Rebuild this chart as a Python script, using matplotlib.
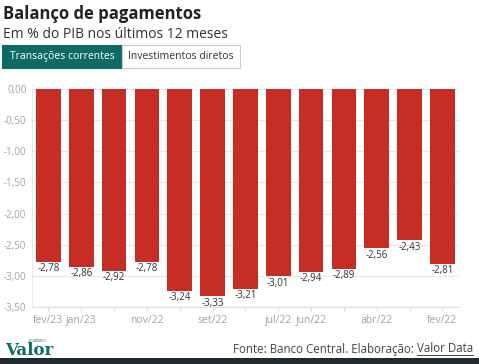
import matplotlib.pyplot as plt
from matplotlib.patches import Rectangle

plt.rcParams['font.family'] = ['Open Sans', 'DejaVu Sans']

meses = ['fev/23', 'jan/23', 'dez/22', 'nov/22', 'out/22', 'set/22', 'ago/22',
         'jul/22', 'jun/22', 'mai/22', 'abr/22', 'mar/22', 'fev/22']
valores = [-2.78, -2.86, -2.92, -2.78, -3.24, -3.33, -3.21,
           -3.01, -2.94, -2.89, -2.56, -2.43, -2.81]
rotulos_visiveis = ['fev/23', 'jan/23', 'nov/22', 'set/22', 'jul/22', 'jun/22', 'abr/22', 'fev/22']
yticks = [0, -0.5, -1.0, -1.5, -2.0, -2.5, -3.0, -3.5]

fig = plt.figure(figsize=(4.79, 3.64), dpi=100)
ax = fig.add_axes([0.0668, 0.1566, 0.891, 0.599])

x = list(range(len(valores)))
ax.bar(x, valores, width=0.75, color='#c62d25', zorder=2)
for xi, v in zip(x, valores):
    ax.text(xi, v - 0.02, f'{v:.2f}'.replace('.', ','), ha='center', va='top',
            fontsize=7, color='#333333', zorder=3)

ax.set_xlim(-0.5, 12.5)
ax.set_ylim(-3.5, 0)
ax.set_yticks(yticks)
ax.set_yticklabels([f'{t:.2f}'.replace('.', ',') for t in yticks])
ax.set_xticks(x)
ax.set_xticklabels([m if m in rotulos_visiveis else '' for m in meses])
ax.tick_params(axis='y', length=0, labelsize=7, labelcolor='#a3a3a3', pad=4)
ax.tick_params(axis='x', length=3, color='#dddddd', labelsize=7.5, labelcolor='#a3a3a3', pad=3)
ax.grid(axis='y', color='#e8e8e8', linewidth=0.8, zorder=0)
for s in ['top', 'right']:
    ax.spines[s].set_visible(False)
ax.spines['left'].set_color('#e8e8e8')
ax.spines['bottom'].set_color('#e0e0e0')

# titulo
fig.text(0.006, 0.985, 'Balanço de pagamentos', fontsize=12, fontweight='bold',
         color='#222222', va='top')
fig.text(0.006, 0.925, 'Em % do PIB nos últimos 12 meses', fontsize=10,
         color='#333333', va='top')

# botoes
W, H = 479, 364
fig.patches.append(Rectangle((2 / W, 1 - 68 / H), 120 / W, 23 / H, transform=fig.transFigure,
                             facecolor='#0e6b64', edgecolor='#0e6b64', linewidth=0.8))
fig.patches.append(Rectangle((122 / W, 1 - 68 / H), 118 / W, 23 / H, transform=fig.transFigure,
                             facecolor='white', edgecolor='#cccccc', linewidth=0.8))
fig.text(62 / W, 1 - 56.5 / H, 'Transações correntes', fontsize=7.5, color='white',
         ha='center', va='center')
fig.text(181 / W, 1 - 56.5 / H, 'Investimentos diretos', fontsize=7.5, color='#333333',
         ha='center', va='center')

# rodape
fig.text(5 / W, 1 - 355 / H, 'Valor', fontsize=12, fontweight='bold', color='#0e6b64',
         family='DejaVu Serif', va='baseline')
fig.text(29 / W, 1 - 342 / H, 'ECONÔMICO', fontsize=2.2, color='#0e6b64', va='baseline')
t1 = fig.text(473 / W, 1 - 349 / H, 'Valor Data', fontsize=8.3, color='#444444',
              ha='right', va='center')
fig.canvas.draw()
bb = t1.get_window_extent()
t0 = fig.text(bb.x0 / W, 1 - 349 / H, 'Fonte: Banco Central. Elaboração: ', fontsize=8.3,
              color='#444444', ha='right', va='center')
fig.add_artist(plt.Line2D([bb.x0 / W, bb.x1 / W], [(bb.y0 + 1) / H, (bb.y0 + 1) / H],
                          transform=fig.transFigure, color='#444444', linewidth=0.7))
fig.patches.append(Rectangle((0, 0), 1, 6 / H, transform=fig.transFigure,
                             facecolor='#1e2b31', edgecolor='none'))

fig.savefig('out.png', dpi=100)
